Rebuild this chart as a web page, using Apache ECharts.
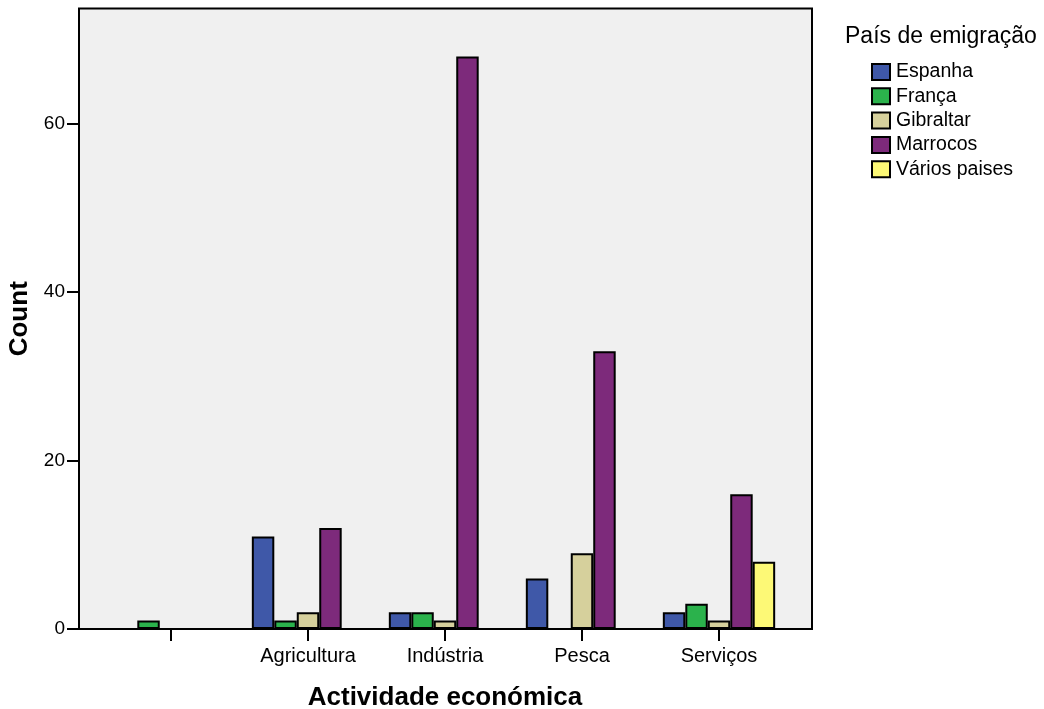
<!DOCTYPE html>
<html>
<head>
<meta charset="utf-8">
<script src="https://cdn.jsdelivr.net/npm/echarts@6/dist/echarts.min.js"></script>
<style>html,body{margin:0;padding:0;background:#fff;}#c{width:1044px;height:709px;}</style>
</head>
<body>
<div id="c"></div>
<script>
const categories = ['', 'Agricultura', 'Indústria', 'Pesca', 'Serviços'];
const espanha = [0, 11, 2, 6, 2];
const franca = [1, 1, 2, 0, 3];
const gibraltar = [0, 2, 1, 9, 1];
const marrocos = [0, 12, 68, 33, 16];
const varios = [0, 0, 0, 0, 8];
const seriesNames = ['Espanha', 'França', 'Gibraltar', 'Marrocos', 'Vários paises'];
const seriesColors = ['#3f58a8', '#2bb24c', '#d6d09c', '#7d2a7b', '#fdf976'];
const yTicks = [0, 20, 40, 60];

const FONT = 'Liberation Sans, Arial, sans-serif';
const chart = echarts.init(document.getElementById('c'));
const values = [espanha, franca, gibraltar, marrocos, varios];
const YMAX = 73.7;

chart.setOption({
  animation: false,
  textStyle: { fontFamily: FONT },
  title: {
    text: 'País de emigração', left: 845, top: 25, padding: 0,
    textStyle: { fontSize: 23, fontWeight: 'normal', color: '#000', fontFamily: FONT }
  },
  legend: {
    orient: 'vertical', left: 871, top: 62, padding: 0,
    itemWidth: 18, itemHeight: 16, itemGap: 4.3,
    icon: 'rect',
    textStyle: { fontSize: 19.5, color: '#000', fontFamily: FONT, padding: [0, 0, 0, 1] },
    data: seriesNames
  },
  grid: [
    { left: 79, right: 232, top: 8.5, bottom: 80, show: true, backgroundColor: '#f0f0f0', borderColor: '#000', borderWidth: 2,
      containLabel: false, outerBoundsMode: 'none' },
    { left: 102.5, right: 256.5, top: 8.5, bottom: 80, containLabel: false, outerBoundsMode: 'none' }
  ],
  xAxis: [
    { type: 'value', gridIndex: 0, show: false, min: 0, max: 1 },
    {
      type: 'category', gridIndex: 1, data: categories,
      name: 'Actividade económica', nameLocation: 'middle', nameGap: 56,
      nameTextStyle: { fontSize: 26, fontWeight: 'bold', color: '#000', fontFamily: FONT },
      axisLine: { show: false },
      axisTick: { show: true, alignWithLabel: true, length: 12, lineStyle: { color: '#000', width: 2 } },
      axisLabel: { color: '#000', fontSize: 20, margin: 17, interval: 0 }
    }
  ],
  yAxis: [
    {
      type: 'value', gridIndex: 0, min: 0, max: YMAX, interval: 20,
      name: 'Count', nameLocation: 'middle', nameGap: 43, nameRotate: 90,
      nameTextStyle: { fontSize: 26, fontWeight: 'bold', color: '#000', fontFamily: FONT },
      axisLine: { show: false },
      axisTick: { show: true, length: 12, lineStyle: { color: '#000', width: 2 },
        customValues: yTicks },
      axisLabel: { color: '#000', fontSize: 19, margin: 14, customValues: yTicks },
      splitLine: { show: false }
    },
    { type: 'value', gridIndex: 1, min: 0, max: YMAX, show: false, splitLine: { show: false } }
  ],
  series: seriesNames.map((n, i) => ({
    name: n, type: 'bar', xAxisIndex: 1, yAxisIndex: 1,
    data: values[i],
    barGap: '0%', barCategoryGap: '18%',
    itemStyle: { color: seriesColors[i], borderColor: '#000', borderWidth: 2 }
  }))
});
</script>
</body>
</html>
